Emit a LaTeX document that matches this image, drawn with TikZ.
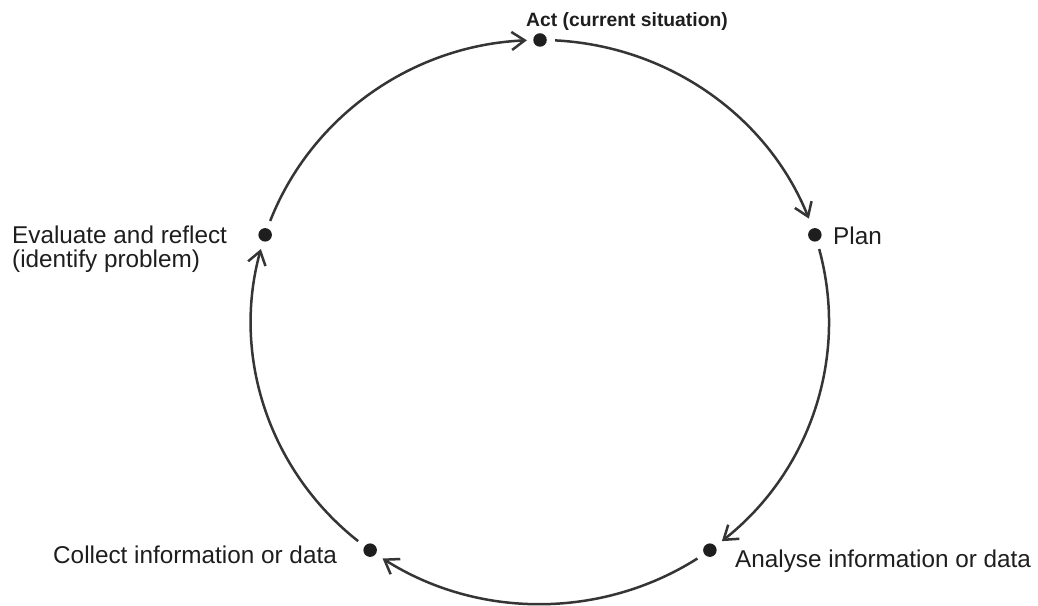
\documentclass[tikz,border=0pt]{standalone}
\usepackage{fontspec}
\setmainfont{Liberation Sans}
\usetikzlibrary{arrows.meta}
\definecolor{ink}{HTML}{1E1E1E}
\definecolor{linec}{HTML}{353535}
\begin{document}
\begin{tikzpicture}[x=1pt,y=1pt,
  dotnode/.style={circle,fill=ink,inner sep=0pt,minimum size=13.5pt},
  lab/.style={inner sep=0pt,text=ink,font=\fontsize{24.3}{24}\selectfont},
  toplab/.style={inner sep=0pt,text=ink,font=\fontsize{19.3}{22}\selectfont\bfseries},
  flow/.style={draw=linec,line width=2.5pt,-{Straight Barb[length=13pt,width=18pt]}}]
\path[use as bounding box,fill=white] (0,0) rectangle (1038,605);
\coordinate (c) at (540,283);
% dots
\node[dotnode] (act)  at ([shift={(c)}]90:289 and 282) {};
\node[dotnode] (plan) at ([shift={(c)}]18:289 and 282) {};
\node[dotnode] (anal) at ([shift={(c)}]-54:289 and 282) {};
\node[dotnode] (coll) at ([shift={(c)}]-126:289 and 282) {};
\node[dotnode] (eval) at ([shift={(c)}]162:289 and 282) {};
% arc start points
\coordinate (s1) at ([shift={(c)}]87:289 and 282);
\coordinate (s2) at ([shift={(c)}]15:289 and 282);
\coordinate (s3) at ([shift={(c)}]-57:289 and 282);
\coordinate (s4) at ([shift={(c)}]-129:289 and 282);
\coordinate (s5) at ([shift={(c)}]159:289 and 282);
% arcs
\draw[flow] (s1) arc[start angle=87,end angle=21.5,x radius=289,y radius=282];
\draw[flow] (s2) arc[start angle=15,end angle=-51,x radius=289,y radius=282];
\draw[flow] (s3) arc[start angle=-57,end angle=-123,x radius=289,y radius=282];
\draw[flow] (s4) arc[start angle=-129,end angle=-195,x radius=289,y radius=282];
\draw[flow] (s5) arc[start angle=159,end angle=92.6,x radius=289,y radius=282];
% labels
\node[toplab,anchor=base] (actL) at (627,578) {Act (current situation)};
\node[lab,anchor=base west] (planL) at (833,360) {Plan};
\node[lab,anchor=base west] (analL) at (735,38) {Analyse information or data};
\node[lab,anchor=base west] (collL) at (53,42) {Collect information or data};
\node[lab,anchor=north west,align=left] (evalL) at (12,379.5) {Evaluate and reflect\\(identify problem)};
\end{tikzpicture}
\end{document}
